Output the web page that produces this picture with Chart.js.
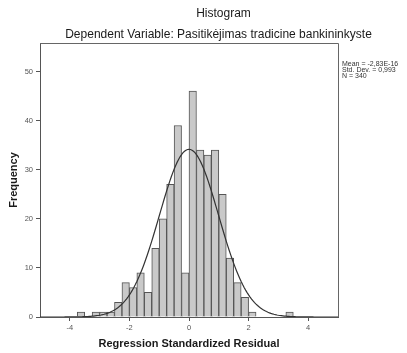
<!DOCTYPE html>
<html>
<head>
<meta charset="utf-8">
<script src="https://cdn.jsdelivr.net/npm/chart.js@4.4.1/dist/chart.umd.min.js"></script>
<style>
  html, body { margin: 0; padding: 0; background: #fff; }
  #wrap { width: 407px; height: 353px; }
</style>
</head>
<body>
<div id="wrap"><canvas id="c" width="407" height="353"></canvas></div>
<script>
// Histogram of standardized residuals: bin centres (width 0.25) and counts
const binWidth = 0.25;
const binCenters = [-3.625, -3.375, -3.125, -2.875, -2.625, -2.375, -2.125, -1.875, -1.625, -1.375,
                    -1.125, -0.875, -0.625, -0.375, -0.125, 0.125, 0.375, 0.625, 0.875, 1.125,
                    1.375, 1.625, 1.875, 2.125, 2.375, 2.625, 2.875, 3.125, 3.375];
const binCounts = [1, 0, 1, 1, 1, 3, 7, 6, 9, 5,
                   14, 20, 27, 39, 9, 46, 34, 33, 34, 25,
                   12, 7, 4, 1, 0, 0, 0, 0, 1];

// Summary statistics shown beside the plot
const statMean = -2.83e-16;
const statStdDev = 0.993;
const statN = 340;
const statLines = ['Mean = -2,83E-16', 'Std. Dev. = 0,993', 'N = 340'];

const xTicks = [-4, -2, 0, 2, 4];
const yTicks = [0, 10, 20, 30, 40, 50];

const titleText = 'Histogram';
const subtitleText = 'Dependent Variable: Pasitikėjimas tradicine bankininkyste';
const xTitle = 'Regression Standardized Residual';
const yTitle = 'Frequency';

// Fitted normal curve scaled to the histogram (N * bin width * density)
const curvePts = [];
for (let i = 0; i <= 200; i++) {
  const x = -5 + i * 0.05;
  const z = (x - statMean) / statStdDev;
  const y = statN * binWidth * Math.exp(-0.5 * z * z) / (statStdDev * Math.sqrt(2 * Math.PI));
  curvePts.push({ x: x, y: y });
}

const FONT = '"Liberation Sans", Arial, sans-serif';

const textPlugin = {
  id: 'textPlugin',
  afterDraw(chart) {
    const ctx = chart.ctx;
    const a = chart.chartArea;
    ctx.save();
    // frame around plot area
    ctx.strokeStyle = '#666';
    ctx.lineWidth = 1;
    ctx.beginPath();
    ctx.moveTo(a.left, Math.round(a.top) + 0.5);
    ctx.lineTo(Math.round(a.right) + 0.5, Math.round(a.top) + 0.5);
    ctx.lineTo(Math.round(a.right) + 0.5, a.bottom);
    ctx.stroke();

    ctx.fillStyle = '#1a1a1a';
    ctx.textAlign = 'center';
    ctx.textBaseline = 'alphabetic';
    ctx.font = '12px ' + FONT;
    ctx.fillText(titleText, 223.5, 17);
    ctx.fillText(subtitleText, 218.5, 38);

    ctx.font = 'bold 11px ' + FONT;
    ctx.textBaseline = 'middle';
    ctx.fillText(xTitle, 189, 344);
    ctx.save();
    ctx.translate(13.5, 180);
    ctx.rotate(-Math.PI / 2);
    ctx.fillText(yTitle, 0, 0);
    ctx.restore();

    ctx.font = '7px ' + FONT;
    ctx.textAlign = 'left';
    ctx.textBaseline = 'alphabetic';
    ctx.fillStyle = '#333';
    statLines.forEach((s, i) => ctx.fillText(s, 342, 65.5 + i * 6));
    ctx.restore();
  }
};

new Chart(document.getElementById('c'), {
  type: 'bar',
  data: {
    datasets: [
      {
        type: 'line',
        data: curvePts,
        borderColor: '#333',
        borderWidth: 1.2,
        pointRadius: 0,
        tension: 0,
        fill: false,
        order: 0
      },
      {
        type: 'bar',
        data: binCenters.map((c, i) => ({ x: c, y: binCounts[i] })),
        backgroundColor: '#c9c9c9',
        borderColor: '#555',
        borderWidth: 1,
        barPercentage: 1,
        categoryPercentage: 1,
        order: 1
      }
    ]
  },
  options: {
    responsive: false,
    animation: false,
    devicePixelRatio: 1,
    layout: { padding: { left: 0, top: 43, right: 69, bottom: 0 } },
    plugins: { legend: { display: false }, tooltip: { enabled: false }, title: { display: false } },
    scales: {
      x: {
        type: 'linear',
        min: -5,
        max: 5,
        offset: false,
        afterBuildTicks(s) { s.ticks = xTicks.map(v => ({ value: v })); },
        afterFit(s) { s.height = 36; },
        ticks: { color: '#555', font: { family: FONT, size: 7.5 }, padding: 2, maxRotation: 0, autoSkip: false },
        grid: { display: true, drawOnChartArea: false, drawTicks: true, tickLength: 4, color: '#555', offset: false },
        border: { display: true, color: '#555', width: 1 }
      },
      y: {
        min: 0,
        max: 55.8,
        afterBuildTicks(s) { s.ticks = yTicks.map(v => ({ value: v })); },
        afterFit(s) { s.width = 40; },
        ticks: { color: '#555', font: { family: FONT, size: 7.5 }, padding: 3 },
        grid: { display: true, drawOnChartArea: false, drawTicks: true, tickLength: 4, color: '#555' },
        border: { display: true, color: '#555', width: 1 }
      }
    }
  },
  plugins: [textPlugin]
});
</script>
</body>
</html>
